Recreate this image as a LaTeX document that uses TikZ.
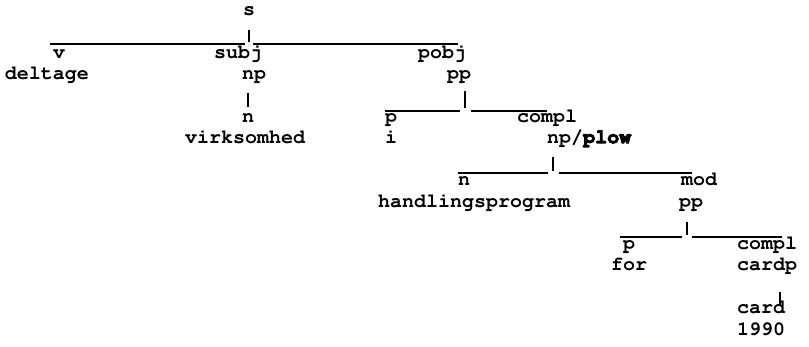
\documentclass[tikz,border=0pt]{standalone}
\usepackage[T1]{fontenc}
\newcommand\heavytext[1]{\special{pdf:literal direct 2 Tr 0.9 w}#1\special{pdf:literal direct 0 Tr 1 w}}
\begin{document}
\begin{tikzpicture}[x=1pt,y=-1pt,
  lbl/.style={inner sep=0pt, anchor=mid, font=\fontfamily{pcr}\fontseries{b}\fontsize{20}{20}\selectfont},
  rule/.style={line width=1.5pt},
  tick/.style={line width=1.8pt}]
\useasboundingbox (0,0) rectangle (809,347);
% labels
\node[lbl] (s) at (249,13) {s};
\node[lbl] (v) at (59,56) {v};
\node[lbl] (subj) at (238,56) {subj};
\node[lbl] (pobj) at (442,56) {pobj};
\node[lbl] (deltage) at (47,77) {deltage};
\node[lbl] (np1) at (254,77) {np};
\node[lbl] (pp1) at (459,77) {pp};
\node[lbl] (n1) at (248,120) {n};
\node[lbl] (p1) at (391,120) {p};
\node[lbl] (compl1) at (547,120) {compl};
\node[lbl] (virk) at (245,141) {virksomhed};
\node[lbl] (i) at (391,141) {i};
\node[lbl,anchor=mid west] (npplow) at (547,141) {np/\heavytext{plow}};
\node[lbl] (n2) at (464,183) {n};
\node[lbl] (mod) at (699,183) {mod};
\node[lbl] (handl) at (474,205) {handlingsprogram};
\node[lbl] (pp2) at (691,205) {pp};
\node[lbl] (p2) at (629,247) {p};
\node[lbl,anchor=mid west] (compl2) at (737,247) {compl};
\node[lbl] (for) at (629,268) {for};
\node[lbl,anchor=mid west] (cardp) at (737,268) {cardp};
\node[lbl,anchor=mid west] (card) at (737,311) {card};
\node[lbl,anchor=mid west] (y1990) at (737,333) {1990};
% junction coordinates
\coordinate (a1) at (249,30); \coordinate (a2) at (249,42);
\coordinate (a1l) at (50,44); \coordinate (a1lr) at (245,44);
\coordinate (a1rl) at (253,44); \coordinate (a1r) at (458,44);
\coordinate (b1) at (248,93); \coordinate (b2) at (248,107);
\coordinate (c1) at (465,91); \coordinate (c2) at (465,108);
\coordinate (cl) at (385,111); \coordinate (clr) at (460,111);
\coordinate (crl) at (471,111); \coordinate (cr) at (547,111);
\coordinate (d1) at (553,157); \coordinate (d2) at (553,171);
\coordinate (dl) at (458,173); \coordinate (dlr) at (548,173);
\coordinate (drl) at (559,173); \coordinate (dr) at (692,173);
\coordinate (e1) at (687,222); \coordinate (e2) at (687,235);
\coordinate (el) at (620,237); \coordinate (elr) at (682,237);
\coordinate (erl) at (692,237); \coordinate (er) at (782,237);
\coordinate (f1) at (780,292); \coordinate (f2) at (780,306);
% connectors
\draw[tick] (a1) -- (a2);
\draw[rule] (a1l) -- (a1lr);
\draw[rule] (a1rl) -- (a1r);
\draw[tick] (b1) -- (b2);
\draw[tick] (c1) -- (c2);
\draw[rule] (cl) -- (clr);
\draw[rule] (crl) -- (cr);
\draw[tick] (d1) -- (d2);
\draw[rule] (dl) -- (dlr);
\draw[rule] (drl) -- (dr);
\draw[tick] (e1) -- (e2);
\draw[rule] (el) -- (elr);
\draw[rule] (erl) -- (er);
\draw[tick] (f1) -- (f2);
\end{tikzpicture}
\end{document}
